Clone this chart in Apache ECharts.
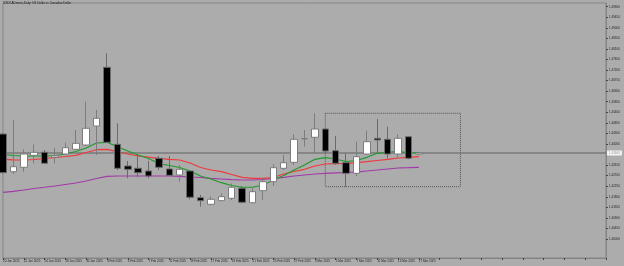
<!DOCTYPE html>
<html><head><meta charset="utf-8">
<script src="https://cdn.jsdelivr.net/npm/echarts@6/dist/echarts.min.js"></script>
<style>html,body{margin:0;padding:0;background:#acacac;}#c{width:624px;height:266px;}</style>
</head><body><div id="c"></div>
<script>
const chartTitle = 'USDCADmicro,Daily: US Dollar vs Canadian Dollar';
const dates = ['20 Jan 2025','21 Jan 2025','22 Jan 2025','23 Jan 2025','24 Jan 2025','27 Jan 2025','28 Jan 2025','29 Jan 2025','30 Jan 2025','31 Jan 2025',
  '3 Feb 2025','4 Feb 2025','5 Feb 2025','6 Feb 2025','7 Feb 2025','10 Feb 2025','11 Feb 2025','12 Feb 2025','13 Feb 2025','14 Feb 2025',
  '17 Feb 2025','18 Feb 2025','19 Feb 2025','20 Feb 2025','21 Feb 2025','24 Feb 2025','25 Feb 2025','26 Feb 2025','27 Feb 2025','28 Feb 2025',
  '3 Mar 2025','4 Mar 2025','5 Mar 2025','6 Mar 2025','7 Mar 2025','10 Mar 2025','11 Mar 2025','12 Mar 2025','13 Mar 2025','14 Mar 2025','17 Mar 2025'];
const futureSlots = 18;
const candles = [
  [1.44475,1.42826,1.42792,1.44518],[1.42869,1.43082,1.42771,1.45072],[1.43056,1.43623,1.42869,1.43823],[1.43567,1.43695,1.43227,1.44036],
  [1.43695,1.43227,1.43197,1.43793],[1.43495,1.43559,1.43227,1.43891],[1.43623,1.43891,1.43580,1.44104],[1.43823,1.44079,1.43793,1.44646],
  [1.44006,1.44718,1.43964,1.45852],[1.44816,1.45144,1.43580,1.45498],[1.47317,1.44121,1.44091,1.47914],[1.44036,1.43014,1.42941,1.44931],
  [1.43112,1.42971,1.42588,1.43325],[1.43014,1.42826,1.42656,1.43580],[1.42899,1.42686,1.42588,1.43325],[1.43440,1.43056,1.42941,1.43538],
  [1.42984,1.42715,1.42686,1.43538],[1.42728,1.42971,1.42443,1.43154],[1.42899,1.41779,1.41693,1.42941],[1.41762,1.41634,1.41378,1.41877],
  [1.41480,1.41693,1.41437,1.41804],[1.41634,1.41804,1.41621,1.41949],[1.41736,1.42205,1.41663,1.42375],[1.42162,1.41565,1.41523,1.42260],
  [1.41548,1.42017,1.41523,1.42162],[1.42060,1.42443,1.41663,1.42588],[1.42443,1.43039,1.42260,1.43184],[1.43014,1.43252,1.42941,1.43580],
  [1.43269,1.44249,1.43154,1.44462],[1.44262,1.44283,1.43934,1.44646],[1.44335,1.44688,1.43653,1.45357],[1.44688,1.43751,1.43653,1.44731],
  [1.43764,1.43227,1.43154,1.44390],[1.43252,1.42801,1.42230,1.43653],[1.42801,1.43508,1.42686,1.44147],[1.43623,1.44147,1.43580,1.44616],
  [1.44292,1.44219,1.43653,1.45114],[1.44249,1.43623,1.43440,1.44786],[1.43623,1.44292,1.43482,1.44462],[1.44360,1.43440,1.43397,1.44390],
  [1.43623,1.43666,1.43580,1.43708]
];
const maFast = [1.43602,1.43559,1.43538,1.43538,1.43538,1.43559,1.43623,1.43730,1.43879,1.44091,1.44121,1.43934,1.43751,1.43580,1.43431,1.43218,1.43133,1.43048,1.42899,1.42686,
  1.42558,1.42400,1.42281,1.42205,1.42205,1.42302,1.42502,1.42707,1.42941,1.43154,1.43397,1.43465,1.43410,1.43304,1.43346,1.43482,1.43653,1.43687,1.43751,1.43666,1.43687];
const maMid = [1.43397,1.43376,1.43367,1.43389,1.43431,1.43474,1.43517,1.43567,1.43687,1.43806,1.43823,1.43721,1.43623,1.43538,1.43487,1.43440,1.43397,1.43367,1.43239,1.43048,
  1.42941,1.42869,1.42749,1.42630,1.42588,1.42588,1.42622,1.42771,1.42877,1.42971,1.43112,1.43197,1.43210,1.43227,1.43252,1.43295,1.43346,1.43397,1.43453,1.43482,1.43508];
const maSlow = [1.41991,1.42033,1.42089,1.42153,1.42205,1.42260,1.42323,1.42387,1.42472,1.42579,1.42673,1.42686,1.42686,1.42686,1.42686,1.42686,1.42686,1.42673,1.42643,1.42622,
  1.42588,1.42558,1.42528,1.42515,1.42515,1.42537,1.42579,1.42630,1.42686,1.42728,1.42771,1.42801,1.42822,1.42835,1.42848,1.42899,1.42941,1.42984,1.43027,1.43039,1.43056];
const yTickLabels = [1.49900,1.49450,1.49000,1.48550,1.48100,1.47650,1.47200,1.46750,1.46300,1.45850,1.45400,1.44950,1.44500,1.44050,
  1.43150,1.42700,1.42250,1.41800,1.41350,1.40900,1.40450,1.40000];
const yMin = 1.39191, yMax = 1.50058;
const boxFrom = 31, boxTo = 44, boxScanFrom = 30;

const cats = dates.concat(Array.from({length: futureSlots}, (_, i) => 'f' + i));
const lastClose = candles[candles.length - 1][1];
const priceLine = cats.map(() => lastClose);
const boxSlice = candles.slice(boxScanFrom);
const boxTop = Math.max(...boxSlice.map(c => c[3]));
const boxBottom = Math.min(...boxSlice.map(c => c[2]));
const FONT = 'Liberation Sans';

const chart = echarts.init(document.getElementById('c'), null, {renderer: 'canvas'});
chart.setOption({
  animation: false,
  backgroundColor: '#acacac',
  title: {text: chartTitle, left: 3, top: 2, padding: 0,
    textStyle: {fontSize: 3, color: '#1a1a1a', fontWeight: 'normal', fontFamily: FONT}},
  grid: {left: 2, right: 18, top: 3, bottom: 8, show: true, borderColor: '#858585', borderWidth: 1, backgroundColor: 'transparent'},
  xAxis: {
    type: 'category', data: cats, boundaryGap: false,
    axisLine: {show: true, lineStyle: {color: '#858585', width: 1}},
    axisTick: {show: true, interval: 1, length: 2, lineStyle: {color: '#444'}},
    axisLabel: {interval: 1, fontSize: 3, color: '#222', align: 'left', margin: 2, fontFamily: FONT,
      formatter: (v, i) => i < dates.length ? v : ''},
    splitLine: {show: false}
  },
  yAxis: {
    type: 'value', position: 'right', min: yMin, max: yMax, scale: true,
    axisLine: {show: true, lineStyle: {color: '#858585', width: 1}},
    axisTick: {show: true, length: 2, customValues: yTickLabels, lineStyle: {color: '#444'}},
    axisLabel: {customValues: yTickLabels, fontSize: 3, color: '#222', margin: 3, fontFamily: FONT,
      formatter: v => v.toFixed(5)},
    splitLine: {show: false}
  },
  series: [
    {type: 'line', data: priceLine, symbol: 'none', silent: true, z: 1,
      lineStyle: {color: '#7a7a7a', width: 1.5},
      endLabel: {show: true, distance: 1, formatter: p => Number(p.value).toFixed(5), fontSize: 3, color: '#9a9a9a',
        backgroundColor: '#f4f4f4', padding: [1, 2], fontFamily: FONT}
    },
    {type: 'line', data: maSlow, symbol: 'none', lineStyle: {color: '#a23aa8', width: 1.2}, z: 2},
    {type: 'line', data: maMid, symbol: 'none', lineStyle: {color: '#ee3a3a', width: 1.2}, z: 2},
    {type: 'line', data: maFast, symbol: 'none', lineStyle: {color: '#1f9a2a', width: 1.2}, z: 2},
    {
      type: 'candlestick', data: candles, barWidth: 7, z: 3,
      itemStyle: {color: '#ffffff', color0: '#000000', borderColor: '#7c7c7c', borderColor0: '#6a6a6a', borderWidth: 1},
      markArea: {
        silent: true,
        itemStyle: {color: 'rgba(0,0,0,0)', borderColor: '#555555', borderWidth: 1, borderType: 'dotted'},
        data: [[{xAxis: boxFrom, yAxis: boxTop}, {xAxis: boxTo, yAxis: boxBottom}]]
      }
    }
  ]
});
</script></body></html>
